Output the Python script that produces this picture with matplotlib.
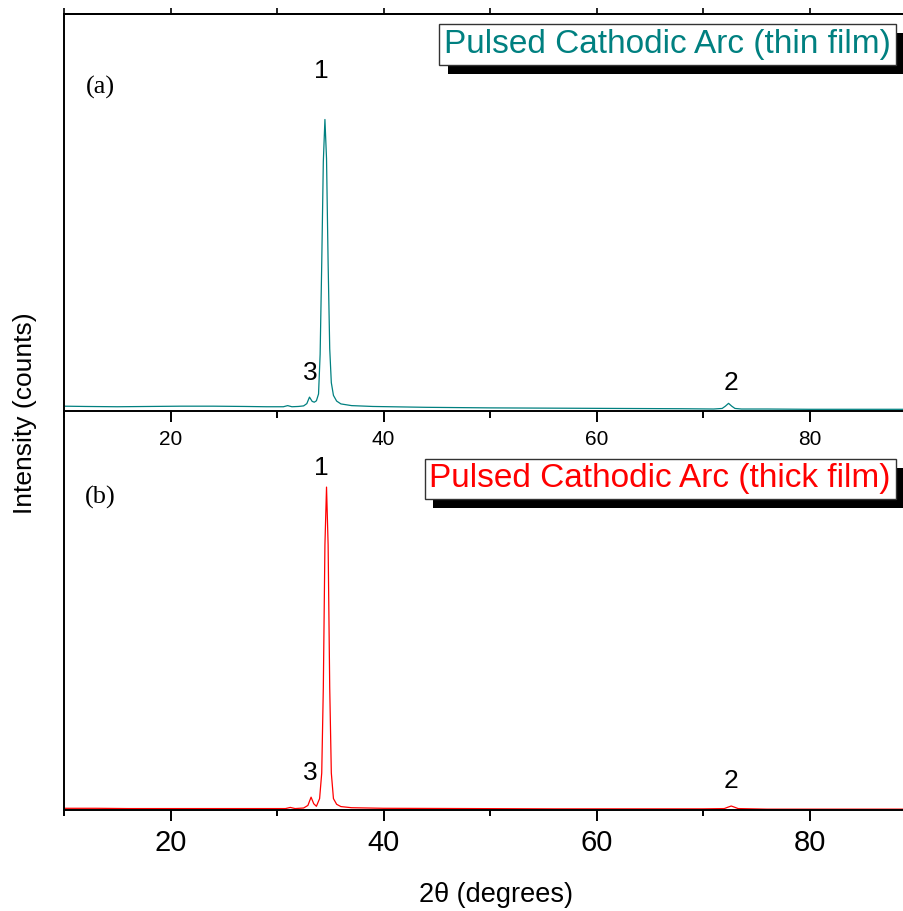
import matplotlib
matplotlib.use("Agg")
import matplotlib.pyplot as plt
import matplotlib.patheffects as pe
from matplotlib.ticker import MultipleLocator, NullFormatter

plt.rcParams['font.family'] = ['Liberation Sans', 'DejaVu Sans']

# thin film (a)
tt_thin = [10, 12, 15, 18, 21, 24, 27, 29,
           30.6, 31.0, 31.4, 32.0, 32.5, 32.8,
           33.05, 33.3, 33.5, 33.7, 33.9,
           34.05, 34.2, 34.35, 34.5, 34.65, 34.8, 34.95,
           35.1, 35.3, 35.6, 36.0, 37.0,
           39, 44, 50, 56, 62, 68,
           71.0, 71.8, 72.1, 72.4, 72.7, 73.0, 73.6,
           76, 80, 85, 89]
I_thin = [17, 16, 15, 16, 17, 17, 16, 15,
          15, 19, 15, 16, 18, 26,
          49, 34, 31, 36, 60,
          200, 520, 880, 1028, 890, 520, 220,
          100, 55, 35, 25, 19,
          16, 13, 11, 10, 9, 8,
          7, 9, 17, 27, 17, 9, 7,
          7, 6, 6, 6]

# thick film (b)
tt_thick = [10, 13, 16, 20, 25, 29,
            30.8, 31.25, 31.7, 32.5, 32.9,
            33.2, 33.45, 33.7, 34.0,
            34.2, 34.35, 34.5, 34.65, 34.8, 34.95, 35.1,
            35.3, 35.6, 36.0, 37.0,
            40, 48, 56, 64, 70,
            72.0, 72.35, 72.65, 72.95, 73.3,
            76, 82, 89]
I_thick = [6, 6, 5, 5, 5, 5,
           5, 9, 5, 7, 16,
           45, 22, 13, 40,
           130, 430, 930, 1133, 930, 430, 130,
           40, 20, 12, 8,
           6, 5, 4, 4, 4,
           5, 10, 14, 10, 5,
           3, 3, 3]

# peak labels: (text, 2theta, height)
labels_thin = [("1", 34.2, 1198), ("3", 33.15, 134), ("2", 72.6, 99)]
labels_thick = [("1", 34.15, 1200), ("3", 33.15, 130), ("2", 72.65, 102)]

W, H = 904, 911
fig = plt.figure(figsize=(W / 100, H / 100), dpi=100)

ax2 = fig.add_axes([64 / W, (H - 810) / H, 840 / W, 399 / H])
ax1 = fig.add_axes([64 / W, (H - 411) / H, 840 / W, 397 / H])
ax1.set_zorder(3)
ax1.patch.set_alpha(0)

teal = '#008080'
ax1.plot(tt_thin, I_thin, color=teal, lw=0.9)
ax2.plot(tt_thick, I_thick, color='red', lw=0.9)

for ax in (ax1, ax2):
    ax.set_xlim(10, 10 + 840 / 10.65)
    ax.set_ylim(0, 1400)
    ax.set_yticks([])
    ax.spines['right'].set_visible(False)
    ax.spines['left'].set_linewidth(1.4)
    ax.spines['bottom'].set_linewidth(1.4)
    ax.spines['top'].set_linewidth(1.4)
    ax.xaxis.set_major_locator(MultipleLocator(20))
    ax.xaxis.set_minor_locator(MultipleLocator(10))

ax2.spines['top'].set_visible(False)

ax1.tick_params(axis='x', which='major', direction='out', length=8, width=1.4,
                labelsize=15, pad=6)
ax1.tick_params(axis='x', which='minor', direction='out', length=5, width=1.4)
ax2.tick_params(axis='x', which='major', direction='out', length=8, width=1.4,
                labelsize=21, pad=6)
ax2.tick_params(axis='x', which='minor', direction='out', length=4, width=1.4)

# short ticks along the top frame of panel (a)
top = ax1.secondary_xaxis('top')
top.xaxis.set_major_locator(MultipleLocator(10))
top.xaxis.set_major_formatter(NullFormatter())
top.tick_params(axis='x', direction='out', length=4, width=1.2)
top.spines['top'].set_linewidth(1.4)

for ax, labs in ((ax1, labels_thin), (ax2, labels_thick)):
    for t, x, y in labs:
        ax.text(x, y, t, fontsize=19, ha='center', va='center')

fig.text(100 / W, 1 - 87 / H, "(a)", fontsize=19,
         family='Liberation Serif', ha='center', va='center')
fig.text(100 / W, 1 - 497 / H, "(b)", fontsize=19,
         family='Liberation Serif', ha='center', va='center')

shadow = [pe.withSimplePatchShadow(offset=(6, -6.5), shadow_rgbFace='black', alpha=1)]
t1 = fig.text(891 / W, 1 - 44.5 / H, "Pulsed Cathodic Arc (thin film)", color=teal,
              fontsize=24, ha='right', va='center', zorder=5,
              bbox=dict(boxstyle='square,pad=0.14', fc='white', ec='#333333', lw=1))
t2 = fig.text(891 / W, 1 - 479 / H, "Pulsed Cathodic Arc (thick film)", color='red',
              fontsize=24, ha='right', va='center', zorder=5,
              bbox=dict(boxstyle='square,pad=0.14', fc='white', ec='#333333', lw=1))
for t in (t1, t2):
    t.get_bbox_patch().set_path_effects(shadow)

fig.text(25 / W, 1 - 413 / H, "Intensity (counts)", rotation=90, fontsize=19,
         ha='center', va='center')
fig.text(496 / W, 1 - 895 / H, "2θ (degrees)", fontsize=19.5,
         ha='center', va='center')

fig.savefig("out.png", dpi=100)
